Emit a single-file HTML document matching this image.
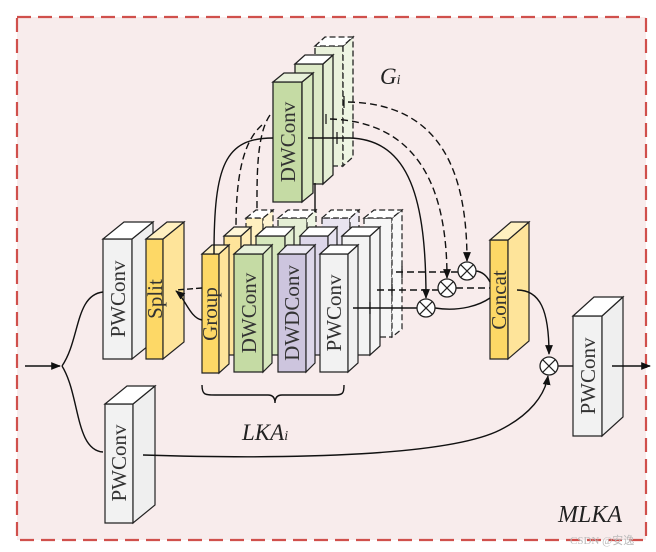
<!DOCTYPE html>
<html><head><meta charset="utf-8"><style>
html,body{margin:0;padding:0;background:#fff}
svg{display:block}
text{font-family:"Liberation Serif",serif}
</style></head><body>
<svg width="656" height="552" viewBox="0 0 656 552" xmlns="http://www.w3.org/2000/svg">
<defs>
<marker id="ar" viewBox="0 0 10 10" refX="9" refY="5" markerWidth="7" markerHeight="7" orient="auto"><path d="M0,1 L10,5 L0,9 z" fill="#111"/></marker>
</defs>
<rect x="0" y="0" width="656" height="552" fill="#fff"/>
<rect x="17" y="17" width="629" height="523" fill="#f8ecec" stroke="#d0504c" stroke-width="2.2" stroke-dasharray="14,7"/>

<g stroke="#222" stroke-width="1.3">
<g stroke-dasharray="6,3">
<polygon points="315,46 343,46 343,166 315,166" fill="#eaf2dc"/>
<polygon points="343,46 353,37 353,157 343,166" fill="#eef5e3"/>
<polygon points="315,46 325,37 353,37 343,46" fill="#fff"/>
</g>
<polygon points="295,64 323,64 323,184 295,184" fill="#dce9c6"/>
<polygon points="323,64 333,55 333,175 323,184" fill="#e5efd5"/>
<polygon points="295,64 305,55 333,55 323,64" fill="#fff"/>
<polygon points="273,82 302,82 302,202 273,202" fill="#c5dba4"/>
<polygon points="302,82 313,73 313,193 302,202" fill="#d6e7bd"/>
<polygon points="273,82 284,73 313,73 302,82" fill="#e8f1da"/>
</g>

<g stroke="#222" stroke-width="1.2" stroke-dasharray="6,3">
<polygon points="246,218 263,218 263,337 246,337" fill="#fff0c0"/><polygon points="263,218 273,210 273,329 263,337" fill="#fff4d0"/><polygon points="246,218 256,210 273,210 263,218" fill="#fff"/>
<polygon points="278,218 307,218 307,337 278,337" fill="#e5efd5"/><polygon points="307,218 316,210 316,329 307,337" fill="#eef5e3"/><polygon points="278,218 288,210 316,210 307,218" fill="#fff"/>
<polygon points="322,218 350,218 350,337 322,337" fill="#e8e4f0"/><polygon points="350,218 359,210 359,329 350,337" fill="#efecf5"/><polygon points="322,218 331,210 359,210 350,218" fill="#fff"/>
<polygon points="364,218 392,218 392,337 364,337" fill="#f6f6f6"/><polygon points="392,218 402,210 402,329 392,337" fill="#f8f8f8"/><polygon points="364,218 374,210 402,210 392,218" fill="#fff"/>
</g>
<g stroke="#222" stroke-width="1.2">
<polygon points="224,236 241,236 241,355 224,355" fill="#fee49a"/><polygon points="241,236 251,227 251,346 241,355" fill="#ffecb5"/><polygon points="224,236 234,227 251,227 241,236" fill="#fff6d8"/>
<polygon points="256,236 285,236 285,355 256,355" fill="#d6e7bd"/><polygon points="285,236 294,227 294,346 285,355" fill="#e3eed2"/><polygon points="256,236 266,227 294,227 285,236" fill="#fff"/>
<polygon points="300,236 328,236 328,355 300,355" fill="#ddd7ea"/><polygon points="328,236 337,227 337,346 328,355" fill="#e6e2ef"/><polygon points="300,236 309,227 337,227 328,236" fill="#fff"/>
<polygon points="342,236 370,236 370,355 342,355" fill="#f3f3f3"/><polygon points="370,236 380,227 380,346 370,355" fill="#f5f5f5"/><polygon points="342,236 352,227 380,227 370,236" fill="#fff"/>
<polygon points="202,254 219,254 219,373 202,373" fill="#fdd866"/><polygon points="219,254 229,245 229,364 219,373" fill="#fee49a"/><polygon points="202,254 212,245 229,245 219,254" fill="#fff0c0"/>
<polygon points="234,254 263,254 263,372 234,372" fill="#c5dba4"/><polygon points="263,254 272,245 272,363 263,372" fill="#d6e7bd"/><polygon points="234,254 244,245 272,245 263,254" fill="#e8f1da"/>
<polygon points="278,254 306,254 306,372 278,372" fill="#cdc5de"/><polygon points="306,254 315,245 315,363 306,372" fill="#ddd7ea"/><polygon points="278,254 287,245 315,245 306,254" fill="#ece9f3"/>
<polygon points="320,254 348,254 348,372 320,372" fill="#f2f2f2"/><polygon points="348,254 358,245 358,363 348,372" fill="#f0f0f0"/><polygon points="320,254 330,245 358,245 348,254" fill="#fff"/>

<polygon points="103,239 132,239 132,359 103,359" fill="#f2f2f2"/><polygon points="132,239 153,222 153,342 132,359" fill="#efefef"/><polygon points="103,239 124,222 153,222 132,239" fill="#fff"/>
<polygon points="146,239 163,239 163,359 146,359" fill="#fdd866"/><polygon points="163,239 184,222 184,342 163,359" fill="#fee49a"/><polygon points="146,239 167,222 184,222 163,239" fill="#fff0c0"/>
<polygon points="105,404 133,404 133,523 105,523" fill="#f2f2f2"/><polygon points="133,404 155,386 155,505 133,523" fill="#efefef"/><polygon points="105,404 127,386 155,386 133,404" fill="#fff"/>
<polygon points="490,240 508,240 508,359 490,359" fill="#fdd866"/><polygon points="508,240 529,222 529,341 508,359" fill="#fee49a"/><polygon points="490,240 511,222 529,222 508,240" fill="#fff0c0"/>
<polygon points="573,316 602,316 602,436 573,436" fill="#f2f2f2"/><polygon points="602,316 623,297 623,417 602,436" fill="#efefef"/><polygon points="573,316 594,297 623,297 602,316" fill="#fff"/>
</g>

<g fill="none" stroke="#111" stroke-width="1.4">
<line x1="25" y1="366" x2="60" y2="366" marker-end="url(#ar)"/>
<path d="M62,366 C80,340 75,295 103,292"/>
<path d="M62,366 C80,395 75,450 103,452"/>
<path d="M143,455 C300,460 450,455 500,430 C530,415 545,395 548,376" marker-end="url(#ar)"/>
<path d="M517,290 C540,290 549,310 549,354" marker-end="url(#ar)"/>
<line x1="558" y1="366" x2="573" y2="366"/>
<line x1="612" y1="366" x2="650" y2="366" marker-end="url(#ar)"/>
<path d="M273,138 C225,138 214,165 214,254"/>
<path d="M308,138 L350,138 C410,140 426,200 426,298" marker-end="url(#ar)"/>
<path d="M330,119 C420,122 447,190 447,278" marker-end="url(#ar)" stroke-dasharray="7,4"/>
<path d="M348,102 C440,104 467,170 467,261" marker-end="url(#ar)" stroke-dasharray="7,4"/>
<path d="M262,125 C245,140 236,170 236,227" stroke-dasharray="7,4"/>
<path d="M270,115 C256,135 257,180 257,212" stroke-dasharray="7,4"/>
<line x1="315" y1="183" x2="315" y2="212"/>
<path d="M202,320 C190,318 185,298 176,291" marker-end="url(#ar)"/>
<path d="M202,288 L176,290" stroke-dasharray="6,3"/>
<line x1="353" y1="308" x2="417" y2="308"/>
<line x1="377" y1="290" x2="438" y2="290" stroke-dasharray="7,4"/>
<line x1="396" y1="272" x2="458" y2="272" stroke-dasharray="7,4"/>
<path d="M435,308 C460,312 480,305 490,298"/>
<line x1="456" y1="288" x2="490" y2="288" stroke-dasharray="7,4"/>
<path d="M476,271 C484,272 488,278 490,282"/>
<path d="M202,385 C202,395 205,395 215,395 L268,395 C273,395 275,398 275,403 C275,398 277,395 282,395 L335,395 C343,395 344,393 344,385"/>
</g>
<g stroke="#111" stroke-width="1.2">
<line x1="337" y1="132" x2="337" y2="144"/><line x1="326" y1="114" x2="326" y2="124"/><line x1="344" y1="96" x2="344" y2="108"/>
<line x1="370" y1="302" x2="370" y2="314"/><line x1="392" y1="284" x2="392" y2="296"/><line x1="402" y1="266" x2="402" y2="278"/>
</g>
<g fill="#fff" stroke="#222" stroke-width="1.3">
<circle cx="426" cy="308" r="9"/><circle cx="447" cy="288" r="9"/><circle cx="467" cy="271" r="9"/><circle cx="549" cy="366" r="9"/>
</g>
<g stroke="#222" stroke-width="1.2">
<path d="M419.6,301.6 L432.4,314.4 M432.4,301.6 L419.6,314.4"/>
<path d="M440.6,281.6 L453.4,294.4 M453.4,281.6 L440.6,294.4"/>
<path d="M460.6,264.6 L473.4,277.4 M473.4,264.6 L460.6,277.4"/>
<path d="M542.6,359.6 L555.4,372.4 M555.4,359.6 L542.6,372.4"/>
</g>

<g font-size="21" fill="#333">
<text transform="translate(125,299) rotate(-90)" text-anchor="middle">PWConv</text>
<text transform="translate(162,299) rotate(-90)" text-anchor="middle">Split</text>
<text transform="translate(217,314) rotate(-90)" text-anchor="middle">Group</text>
<text transform="translate(256,313) rotate(-90)" text-anchor="middle">DWConv</text>
<text transform="translate(299,313) rotate(-90)" text-anchor="middle">DWDConv</text>
<text transform="translate(341,313) rotate(-90)" text-anchor="middle">PWConv</text>
<text transform="translate(295,142) rotate(-90)" text-anchor="middle">DWConv</text>
<text transform="translate(506,300) rotate(-90)" text-anchor="middle">Concat</text>
<text transform="translate(126,463) rotate(-90)" text-anchor="middle">PWConv</text>
<text transform="translate(595,376) rotate(-90)" text-anchor="middle">PWConv</text>
</g>
<g font-style="italic" fill="#222">
<text x="380" y="84" font-size="23">G<tspan font-size="14">i</tspan></text>
<text x="242" y="440" font-size="23">LKA<tspan font-size="14">i</tspan></text>
<text x="558" y="522" font-size="24">MLKA</text>
</g>
<text x="570" y="544" font-size="11" fill="#bbb" font-family="Liberation Sans,sans-serif">CSDN @安逸</text>
</svg>
</body></html>
